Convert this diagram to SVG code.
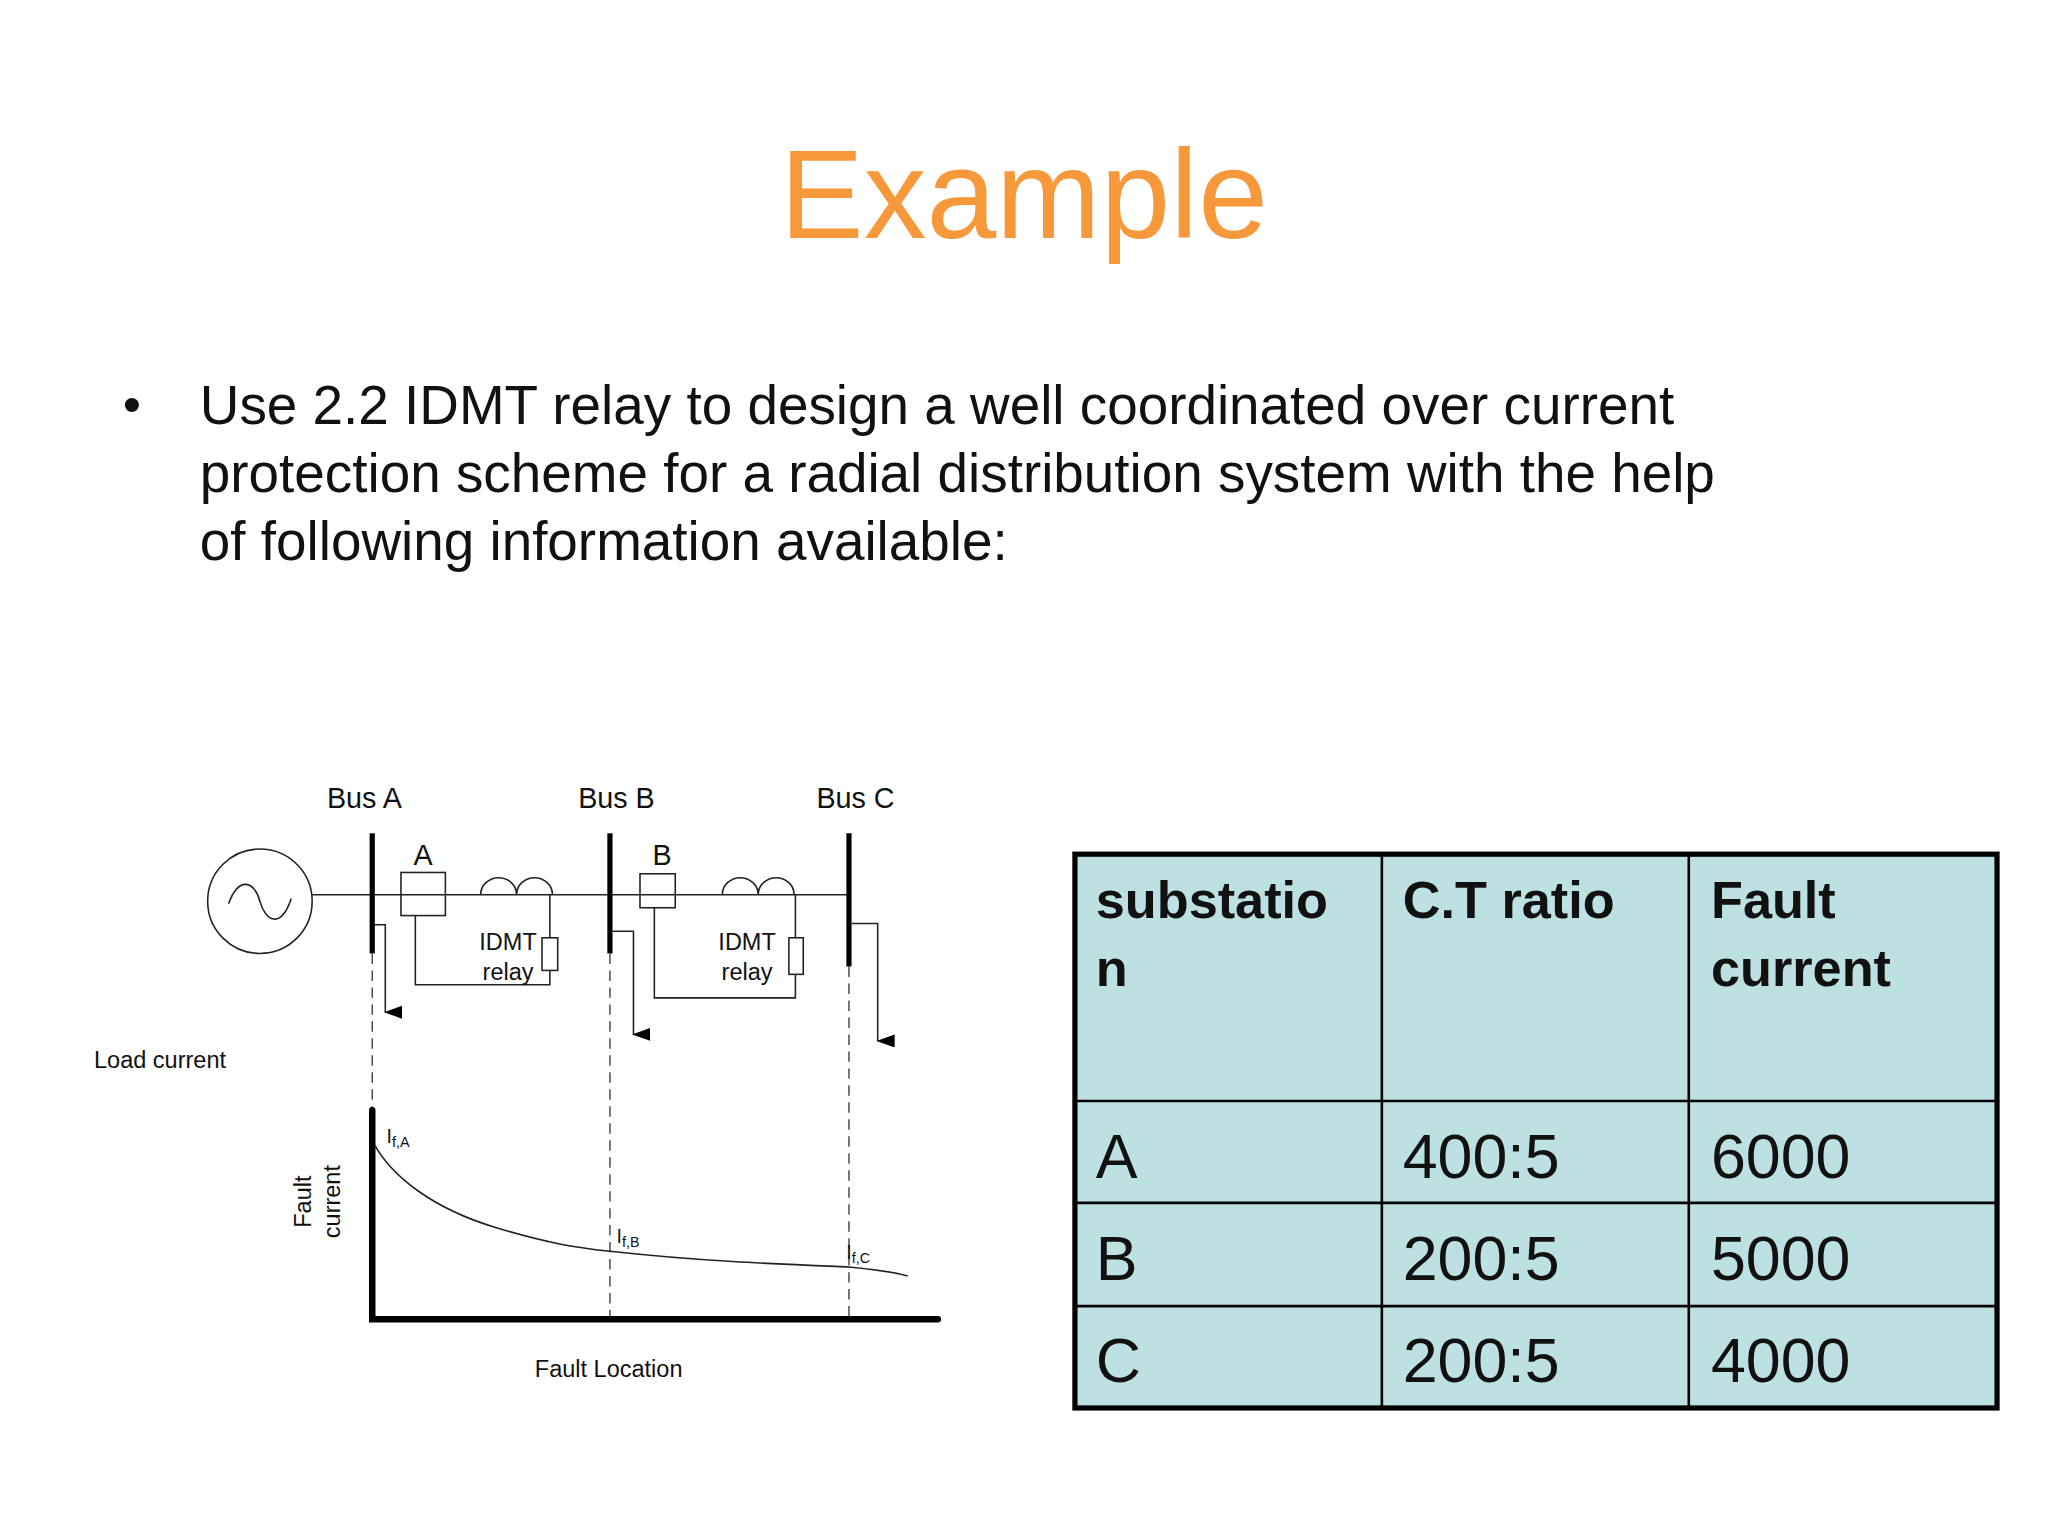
<svg xmlns="http://www.w3.org/2000/svg" width="2048" height="1536" viewBox="0 0 2048 1536">
<style>
text{font-family:"Liberation Sans",Arial,sans-serif;fill:#111}
.w{fill:none;stroke:#222;stroke-width:1.2}
.bus{stroke:#000;stroke-width:4}
.dash{stroke:#333;stroke-width:1;stroke-dasharray:8,5;fill:none}
.lbl{font-size:22px}
.sm{font-size:18px}
.th{font-size:40px;font-weight:bold}
.td{font-size:48px}
</style>
<defs><marker id="ah" markerWidth="10" markerHeight="14" refX="5" refY="13" orient="auto" markerUnits="userSpaceOnUse" viewBox="0 0 10 14"><path d="M0,0 L10,0 L5,14z" fill="#000"/></marker></defs>
<rect width="2048" height="1536" fill="#fff"/>
<g transform="scale(1.3061)">
<text x="784" y="182" text-anchor="middle" style="font-size:96px;fill:#F7993A">Example</text>
<text x="94" y="323" style="font-size:40px">•</text>
<text style="font-size:42px"><tspan x="153" y="325">Use 2.2 IDMT relay to design a well coordinated over current</tspan><tspan x="153" y="377">protection scheme for a radial distribution system with the help</tspan><tspan x="153" y="429">of following information available:</tspan></text>
<g id="circuit">
<circle cx="199" cy="690" r="40" class="w"/>
<path d="M175,692 C183,670 195,675 199,690 S215,712 223,688" class="w"/>
<path d="M239,685 H650" class="w"/>
<g id="busA"><line x1="285" y1="638" x2="285" y2="730" class="bus"/><text x="279" y="619" text-anchor="middle" class="lbl">Bus A</text></g>
<g id="busB"><line x1="467" y1="638" x2="467" y2="730" class="bus"/><text x="472" y="619" text-anchor="middle" class="lbl">Bus B</text></g>
<g id="busC"><line x1="650" y1="638" x2="650" y2="740" class="bus"/><text x="655" y="619" text-anchor="middle" class="lbl">Bus C</text></g>
<g id="breakerA"><rect x="307" y="668" width="34" height="33" fill="#fff" class="w"/><text x="324" y="662" text-anchor="middle" class="lbl">A</text>
<path d="M368,685 A13.75,13 0 0 1 395.5,685 A13.75,13 0 0 1 423,685" class="w"/>
<path d="M421,685 V718 M421,743 V754 H318 V701" class="w"/><rect x="415" y="718" width="12" height="25" fill="#fff" class="w"/>
<text x="389" y="727" text-anchor="middle" class="sm">IDMT</text><text x="389" y="750" text-anchor="middle" class="sm">relay</text></g>
<g id="breakerB"><rect x="490" y="669" width="27" height="26" fill="#fff" class="w"/><text x="507" y="662" text-anchor="middle" class="lbl">B</text>
<path d="M553,685 A13.75,13 0 0 1 580.5,685 A13.75,13 0 0 1 608,685" class="w"/>
<path d="M609,685 V718 M609,746 V764 H501 V695" class="w"/><rect x="604" y="718" width="11" height="28" fill="#fff" class="w"/>
<text x="572" y="727" text-anchor="middle" class="sm">IDMT</text><text x="572" y="750" text-anchor="middle" class="sm">relay</text></g>
</g>
<g id="connectors">
<path d="M287,708 H295 V775" class="w" marker-end="url(#ah)"/>
<path d="M469,713 H485 V792" class="w" marker-end="url(#ah)"/>
<path d="M652,707 H672 V797" class="w" marker-end="url(#ah)"/>
<line x1="285" y1="730" x2="285" y2="850" class="dash"/>
<line x1="467" y1="730" x2="467" y2="1010" class="dash"/>
<line x1="650" y1="740" x2="650" y2="1010" class="dash"/>
</g>
<g id="graph">
<path d="M285,850 V1010 H718" fill="none" stroke="#000" stroke-width="5" stroke-linecap="round"/>
<path d="M287,877 C300,900 330,925 380,940 C420,952 440,955 467,958 C540,966 600,968 650,970 C670,972 685,974 695,977" class="w"/>
<text x="296" y="875" style="font-size:15px">I<tspan dy="3" font-size="11">f,A</tspan></text>
<text x="472" y="952" style="font-size:15px">I<tspan dy="3" font-size="11">f,B</tspan></text>
<text x="648" y="964" style="font-size:15px">I<tspan dy="3" font-size="11">f,C</tspan></text>
<text transform="translate(238,920) rotate(-90)" text-anchor="middle" class="sm">Fault</text>
<text transform="translate(260,920) rotate(-90)" text-anchor="middle" class="sm">current</text>
<text x="72" y="818" class="sm">Load current</text>
<text x="466" y="1054" text-anchor="middle" class="sm">Fault Location</text>
</g>
<g id="table">
<rect x="823" y="654" width="706" height="424" fill="#BDE0E3" stroke="#000" stroke-width="4"/>
<path d="M1058,654 V1078 M1293,654 V1078 M823,843 H1529 M823,921 H1529 M823,1000 H1529" stroke="#000" stroke-width="2" fill="none"/>
<text x="839" y="703" class="th">substatio</text><text x="839" y="755" class="th">n</text>
<text x="1074" y="703" class="th">C.T ratio</text>
<text x="1310" y="703" class="th">Fault</text><text x="1310" y="755" class="th">current</text>
<text x="839" y="902" class="td">A</text><text x="1074" y="902" class="td">400:5</text><text x="1310" y="902" class="td">6000</text>
<text x="839" y="980" class="td">B</text><text x="1074" y="980" class="td">200:5</text><text x="1310" y="980" class="td">5000</text>
<text x="839" y="1058" class="td">C</text><text x="1074" y="1058" class="td">200:5</text><text x="1310" y="1058" class="td">4000</text>
</g>
</g>
</svg>
